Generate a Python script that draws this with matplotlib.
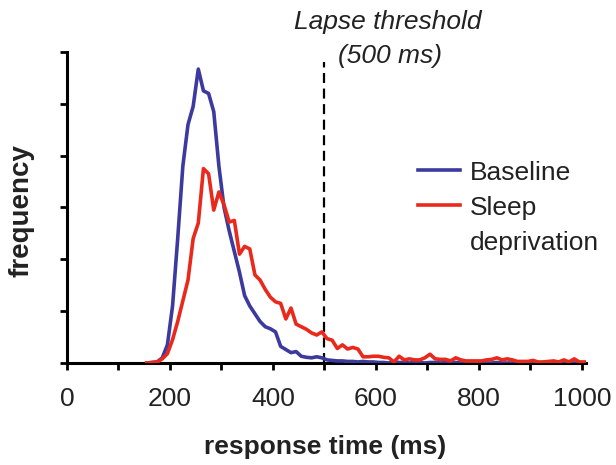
import numpy as np
import matplotlib
matplotlib.use("Agg")
import matplotlib.pyplot as plt
from matplotlib.lines import Line2D

plt.rcParams['font.family'] = ['Liberation Sans', 'DejaVu Sans']

# bin centres (ms), 10 ms bins
bin_centres = list(range(155, 1006, 10))

baseline = [
    0.0, 0.01, 0.02, 0.1, 0.35, 1.1, 2.4, 3.8, 4.6, 4.95,
    5.67, 5.25, 5.2, 4.85, 3.8, 3.0, 2.55, 2.15, 1.75, 1.3,
    1.1, 0.95, 0.8, 0.7, 0.66, 0.6, 0.32, 0.26, 0.2, 0.22,
    0.13, 0.11, 0.1, 0.12, 0.1, 0.06, 0.05, 0.04, 0.04, 0.03,
    0.03, 0.02, 0.03, 0.02, 0.02, 0.01, 0.01, 0.0, 0.02, 0.01,
    0.01, 0.0, 0.01, 0.01, 0.0, 0.01, 0.01, 0.0, 0.01, 0.0,
    0.01, 0.0, 0.01, 0.0, 0.0, 0.01, 0.0, 0.0, 0.01, 0.0,
    0.0, 0.0, 0.01, 0.0, 0.0, 0.0, 0.0, 0.01, 0.0, 0.0,
    0.0, 0.0, 0.0, 0.0, 0.0, 0.0,
]

sleep_dep = [
    0.0, 0.01, 0.02, 0.08, 0.18, 0.45, 0.8, 1.2, 1.6, 2.4,
    2.7, 3.75, 3.65, 2.95, 3.3, 3.05, 2.72, 2.75, 2.1, 2.25,
    2.2, 1.7, 1.6, 1.42, 1.27, 1.18, 1.15, 0.85, 1.06, 0.75,
    0.7, 0.65, 0.58, 0.54, 0.6, 0.47, 0.44, 0.28, 0.35, 0.27,
    0.3, 0.27, 0.12, 0.12, 0.13, 0.13, 0.11, 0.1, 0.02, 0.13,
    0.06, 0.08, 0.06, 0.06, 0.1, 0.17, 0.08, 0.07, 0.07, 0.04,
    0.1, 0.06, 0.04, 0.04, 0.04, 0.04, 0.06, 0.07, 0.1, 0.06,
    0.08, 0.06, 0.03, 0.03, 0.03, 0.05, 0.02, 0.02, 0.03, 0.04,
    0.02, 0.06, 0.02, 0.08, 0.02, 0.02,
]

lapse_ms = 500
x_ticks = list(range(0, 1001, 100))
x_tick_labels = ['0', '', '200', '', '400', '', '600', '', '800', '', '1000']

blue = '#3c3a9e'
red = '#e8291c'
text_col = '#222222'

fig = plt.figure(figsize=(6.16, 4.65), dpi=100)
ax = fig.add_axes([67 / 616, 1 - 363 / 465, 519 / 616, 311 / 465])

ax.plot(bin_centres, baseline, color=blue, lw=2.6, zorder=3)
ax.plot(bin_centres, sleep_dep, color=red, lw=2.6, zorder=3)

# lapse threshold marker
ax.plot([lapse_ms, lapse_ms], [0, 5.8], color='black', lw=1.6, ls=(0, (4.5, 2.5)), zorder=2)

ax.set_xlim(0, 1008)
ax.set_ylim(0, 6)
ax.set_xticks(x_ticks)
ax.set_xticklabels(x_tick_labels)
ax.set_yticks(range(0, 7))
ax.set_yticklabels([])

for side in ['top', 'right']:
    ax.spines[side].set_visible(False)
for side in ['left', 'bottom']:
    ax.spines[side].set_linewidth(2.2)
    ax.spines[side].set_color('black')
    ax.spines[side].set_capstyle('projecting')

ax.tick_params(axis='both', direction='out', length=5, width=2.0, colors='black',
               labelsize=19, labelcolor=text_col, pad=12)

ax.set_xlabel('response time (ms)', fontsize=19, fontweight='bold', color=text_col)
ax.xaxis.set_label_coords(0.497, -0.232)
ax.set_ylabel('frequency', fontsize=20, fontweight='bold', color=text_col)
ax.yaxis.set_label_coords(-0.062, 0.49)

fig.text(388 / 616, 1 - 22 / 465, 'Lapse threshold', fontsize=19, style='italic',
         color=text_col, ha='center', va='center')
fig.text(390 / 616, 1 - 56 / 465, '(500 ms)', fontsize=19, style='italic',
         color=text_col, ha='center', va='center')

# legend: red handle sits next to the first line of "Sleep deprivation"
handles = [Line2D([], [], color=blue, lw=2.6),
           Line2D([], [], color=red, lw=2.6),
           Line2D([], [], color='none', lw=2.6)]
labels = ['Baseline', 'Sleep', 'deprivation']
leg = ax.legend(handles, labels, loc='upper left',
                bbox_to_anchor=(340 / 519, (363 - 150) / 311),
                frameon=False, fontsize=19, handlelength=1.6, handletextpad=0.4,
                labelspacing=0.42, borderaxespad=0)
for t in leg.get_texts():
    t.set_color(text_col)

fig.savefig('out.png', dpi=100)
